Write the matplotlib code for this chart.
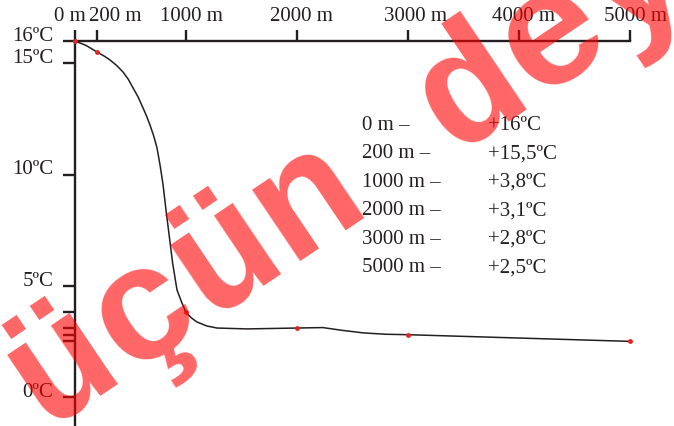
import matplotlib.pyplot as plt
from matplotlib.transforms import ScaledTranslation

# Dəniz suyunun temperaturu dərinlikdən asılı olaraq
depth_m = [0, 200, 1000, 2000, 3000, 5000]
temp_c = [16, 15.5, 3.8, 3.1, 2.8, 2.5]

# aradakı əyri (şəkildən oxunub)
curve_depth = [0, 100, 200, 260, 315, 375, 432, 480, 523, 570, 613, 645, 676,
               710, 739, 766, 793, 820, 850, 880, 919, 964, 1000, 1050, 1099,
               1189, 1279, 1550, 2000, 2234, 2400, 2600, 2800, 3000, 4000, 5000]
curve_temp = [16, 15.8, 15.5, 15.33, 15.15, 14.9, 14.61, 14.28, 13.89, 13.47,
              12.99, 12.62, 12.22, 11.72, 11.19, 10.43, 9.55, 8.4, 7.2, 6.0,
              4.81, 4.22, 3.8, 3.55, 3.37, 3.19, 3.1, 3.06, 3.1, 3.12, 3.0,
              2.88, 2.82, 2.8, 2.65, 2.5]

x_ticks = [0, 200, 1000, 2000, 3000, 4000, 5000]
x_shift = [-5, 18, 5, 4, 7, 4, 6]  # etiketlərin sürüşməsi, piksel
y_ticks = [16, 15, 10, 5, 0]

qara = "#231f20"
qirmizi = "#e52421"
plt.rcParams['font.family'] = ['Liberation Serif', 'DejaVu Serif']

W, H = 674, 426
fig = plt.figure(figsize=(W / 100, H / 100), dpi=100)
ax = fig.add_axes([75 / W, 0, 555 / W, 385 / H])

ax.plot(curve_depth, curve_temp, color=qara, lw=1.1, zorder=3)
ax.plot(depth_m, temp_c, "o", color=qirmizi, ms=3.5, mec="none",
        zorder=4, clip_on=False)

ax.set_xlim(0, 5000)
ax.set_ylim(16 - 385 / 22.25, 16)

for s in ["right", "bottom"]:
    ax.spines[s].set_visible(False)
for s in ["top", "left"]:
    ax.spines[s].set_linewidth(1.7)
    ax.spines[s].set_color(qara)

ax.xaxis.tick_top()
ax.set_xticks(x_ticks)
ax.set_xticklabels([f"{x} m" for x in x_ticks])
ax.tick_params(axis="x", direction="out", length=8, width=1.7, pad=3,
               labelsize=15, colors=qara)
for lab, dx in zip(ax.get_xticklabels(), x_shift):
    lab.set_transform(lab.get_transform() + ScaledTranslation(dx / 100, 0, fig.dpi_scale_trans))

ax.set_yticks(y_ticks)
ax.set_yticklabels([f"{y}ºC" for y in y_ticks])
ax.set_yticks(temp_c[2:], minor=True)
ax.tick_params(axis="y", which="both", direction="out", length=8.5, width=1.7,
               pad=7, labelsize=15, colors=qara)
for lab in ax.get_yticklabels():
    lab.set_va("baseline")

# cədvəl
for i, (d, t) in enumerate(zip(depth_m, temp_c)):
    y = 1 - (125 + i * 28.6) / H
    fig.text(362 / W, y, f"{d} m –", fontsize=15, color=qara, va="center")
    fig.text(488 / W, y, "+" + f"{t:g}".replace(".", ",") + "ºC",
             fontsize=15, color=qara, va="center")

# su nişanı
fig.text(350 / W, 1 - 178 / H, "üçün dey", fontsize=118, fontweight="bold",
         family="Liberation Mono", color="red", alpha=0.6, rotation=34,
         rotation_mode="anchor", ha="center", va="center", zorder=10)

fig.savefig("out.png", dpi=100)
